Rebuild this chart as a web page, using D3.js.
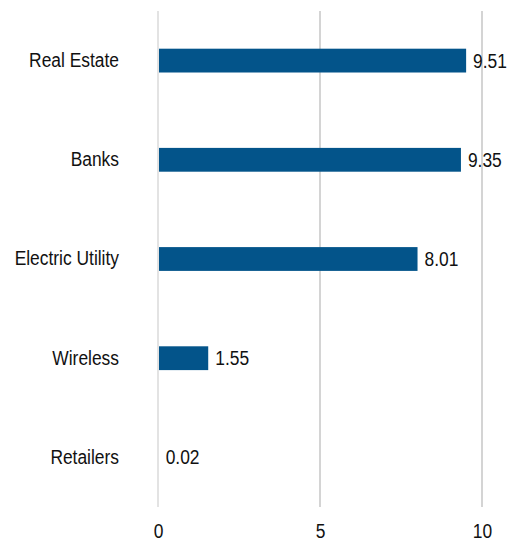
<!DOCTYPE html>
<html>
<head>
<meta charset="utf-8">
<script src="https://cdn.jsdelivr.net/npm/d3@7"></script>
<style>
  body { margin: 0; background: #fff; }
  svg text { font-family: "Liberation Sans", Arial, sans-serif; }
</style>
</head>
<body>
<svg id="chart" width="519" height="542"></svg>
<script>
const categories = ["Real Estate", "Banks", "Electric Utility", "Wireless", "Retailers"]
const values = [9.51, 9.35, 8.01, 1.55, 0.02]
const ticks = [0, 5, 10]

const width = 519, height = 542
const margin = { top: 11, right: 37, bottom: 35, left: 158 }
const fontSize = 20
const squeeze = 0.87 // original text is horizontally condensed

const svg = d3.select("#chart")

const x = d3.scaleLinear()
  .domain([0, 10])
  .range([margin.left, width - margin.right])

const y = d3.scaleBand()
  .domain(categories)
  .range([margin.top, height - margin.bottom])
  .paddingInner(0.76)
  .paddingOuter(0.38)

// gridlines
svg.append("g")
  .selectAll("line")
  .data(ticks)
  .join("line")
  .attr("x1", d => x(d)).attr("x2", d => x(d))
  .attr("y1", margin.top).attr("y2", height - margin.bottom)
  .attr("stroke", d => d === 0 ? "#d4d4d4" : "#bdbdbd")
  .attr("stroke-width", 1.3)

// bars (start just right of the zero line, like the original)
svg.append("g")
  .selectAll("rect")
  .data(values)
  .join("rect")
  .attr("x", x(0) + 1)
  .attr("y", (d, i) => y(categories[i]))
  .attr("width", d => Math.max(0, x(d) - x(0) - 1))
  .attr("height", y.bandwidth())
  .attr("fill", "#03548a")

// value labels
svg.append("g")
  .selectAll("text")
  .data(values)
  .join("text")
  .attr("transform", `scale(${squeeze},1)`)
  .attr("x", d => (x(d) + 7) / squeeze)
  .attr("y", (d, i) => y(categories[i]) + y.bandwidth() / 2)
  .attr("dy", "0.35em")
  .attr("font-size", fontSize)
  .attr("fill", "#111")
  .text(d => d.toFixed(2))

// category labels
const yAxis = svg.append("g")
  .attr("transform", `translate(${margin.left},0)`)
  .call(d3.axisLeft(y).tickSize(0).tickPadding(39))
yAxis.select(".domain").remove()
yAxis.selectAll("text")
  .attr("font-size", fontSize)
  .attr("fill", "#111")
  .attr("transform", `scale(${squeeze},1)`)
  .attr("x", -39 / squeeze)

// x axis labels
const xAxis = svg.append("g")
  .attr("transform", `translate(0,${height - margin.bottom})`)
  .call(d3.axisBottom(x).tickValues(ticks).tickSize(0).tickPadding(17).tickFormat(d3.format("d")))
xAxis.select(".domain").remove()
xAxis.selectAll("text")
  .attr("font-size", fontSize)
  .attr("fill", "#111")
  .attr("transform", `scale(${squeeze},1)`)
</script>
</body>
</html>
